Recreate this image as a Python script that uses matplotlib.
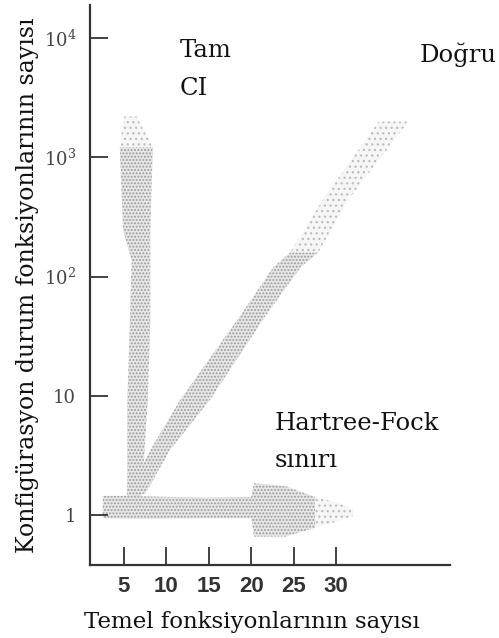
import matplotlib
matplotlib.use("Agg")
import matplotlib.pyplot as plt
from matplotlib.ticker import FixedLocator, FixedFormatter, NullLocator

plt.rcParams['mathtext.fontset'] = 'dejavuserif'
plt.rcParams['hatch.linewidth'] = 0.9

# ---- data ----
x_ticks = [5, 10, 15, 20, 25, 30]
x_ticklabels = ["5", "10", "15", "20", "25", "30"]
y_ticks = [1, 10, 100, 1000, 10000]
y_ticklabels = ["1", "10", r"$10^2$", r"$10^3$", r"$10^4$"]

# "Tam CI" vertical band (y values, left/right x edges)
tamci_y = [1.3, 2.0, 9.2, 43, 138, 245, 1220]
tamci_left = [5.3, 5.4, 5.4, 5.7, 5.9, 4.9, 4.5]
tamci_right = [7.0, 7.2, 7.8, 8.1, 8.1, 8.1, 8.4]
tamci_tip_y = [1220, 2200]
tamci_tip_left = [4.5, 5.0]
tamci_tip_right = [8.4, 6.5]

# "Doğru" diagonal band
dogru_y = [1.5, 3.5, 9.2, 46, 120, 160]
dogru_left = [5.5, 8.1, 11.6, 18.6, 22.6, 24.6]
dogru_right = [7.5, 10.4, 15.1, 21.6, 25.8, 27.9]
dogru_tip_y = [160, 450, 2000]
dogru_tip_left = [24.6, 28.5, 35.0]
dogru_tip_right = [27.9, 31.5, 38.5]

# Hartree-Fock horizontal band (x values, lower/upper y edges)
hf_x = [2.5, 5, 10, 15, 20, 20.3, 24, 27.5]
hf_low = [0.94, 0.93, 0.93, 0.94, 0.94, 0.66, 0.66, 0.78]
hf_high = [1.45, 1.45, 1.42, 1.40, 1.42, 1.85, 1.75, 1.42]
hf_tip_x = [27.5, 30, 32]
hf_tip_low = [0.78, 0.88, 0.98]
hf_tip_high = [1.42, 1.28, 1.12]

W, H = 499, 638
fig = plt.figure(figsize=(W / 100, H / 100), dpi=100)
ax = fig.add_axes([90 / W, 1 - 565 / H, (450 - 90) / W, (565 - 5) / H])
ax.set_yscale('log')
ax.set_xlim(1.0, 43.4)
ax.set_ylim(0.381, 1.9e4)

dense = dict(facecolor='#e6e6e6', edgecolor='#9a9a9a', hatch='.....', linewidth=0)
sparse = dict(facecolor='#f6f6f6', edgecolor='#bdbdbd', hatch='...', linewidth=0)

ax.fill_betweenx(tamci_y, tamci_left, tamci_right, **dense)
ax.fill_betweenx(tamci_tip_y, tamci_tip_left, tamci_tip_right, **sparse)
ax.fill_betweenx(dogru_y, dogru_left, dogru_right, **dense)
ax.fill_betweenx(dogru_tip_y, dogru_tip_left, dogru_tip_right, **sparse)
ax.fill_between(hf_x, hf_low, hf_high, **dense)
ax.fill_between(hf_tip_x, hf_tip_low, hf_tip_high, **sparse)

for s in ['top', 'right']:
    ax.spines[s].set_visible(False)
for s in ['left', 'bottom']:
    ax.spines[s].set_linewidth(1.6)
    ax.spines[s].set_color('#333333')

ax.xaxis.set_major_locator(FixedLocator(x_ticks))
ax.xaxis.set_major_formatter(FixedFormatter(x_ticklabels))
ax.xaxis.set_minor_locator(NullLocator())
ax.yaxis.set_major_locator(FixedLocator(y_ticks))
ax.yaxis.set_major_formatter(FixedFormatter(y_ticklabels))
ax.yaxis.set_minor_locator(NullLocator())

ax.tick_params(axis='x', direction='in', length=13, width=1.3, color='#333333',
               pad=8, labelsize=16, labelcolor='#333333')
ax.tick_params(axis='y', direction='in', length=13, width=1.3, color='#333333',
               pad=10, labelsize=13, labelcolor='#444444')
for lab in ax.get_xticklabels():
    lab.set_fontfamily('Liberation Sans')
    lab.set_fontweight('bold')
for lab in ax.get_yticklabels():
    lab.set_fontfamily('DejaVu Serif')

serif = 'DejaVu Serif'
ax.set_xlabel("Temel fonksiyonlarının sayısı", fontsize=16.5, family=serif,
              color='#111111')
ax.xaxis.set_label_coords(0.45, -(628 - 565) / 560)
ax.xaxis.label.set_va('baseline')
ax.set_ylabel("Konfigürasyon durum fonksiyonlarının sayısı", fontsize=17,
              family=serif, color='#111111', labelpad=3)

def ftext(x, y, s, **kw):
    fig.text(x / W, 1 - y / H, s, family=serif, fontsize=17.5, color='#111111',
             va='baseline', ha='left', **kw)

ftext(180, 57, "Tam")
ftext(180, 95, "CI")
ftext(420, 62, "Doğru")
ftext(275, 430, "Hartree-Fock")
ftext(275, 467, "sınırı")

fig.savefig("out.png", dpi=100)
